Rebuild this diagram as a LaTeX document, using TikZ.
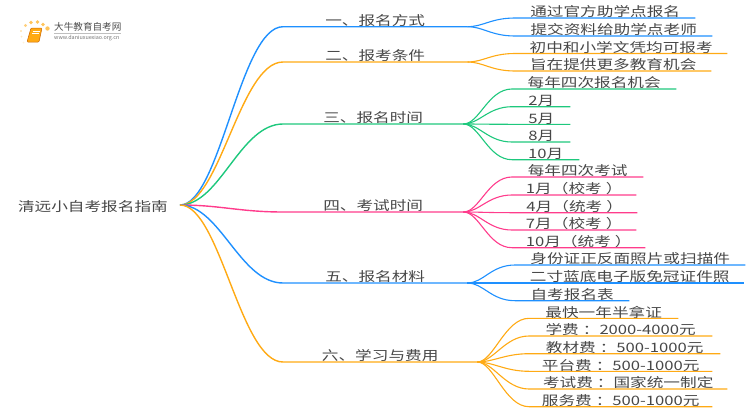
\documentclass[tikz,border=0pt]{standalone}
\usepackage{fontspec}
\setmainfont[FakeStretch=1.28]{Noto Sans CJK SC}
\newfontfamily\logofont{Noto Sans CJK SC}
\definecolor{lineblue}{RGB}{30,144,255}
\definecolor{lineorange}{RGB}{255,170,20}
\definecolor{linegreen}{RGB}{30,200,125}
\definecolor{linepink}{RGB}{255,60,140}
\tikzset{
	topic/.style={inner xsep=8pt, inner ysep=0pt, text height=10.5pt, text depth=1pt, text=black!72, font=\fontsize{13}{13}\selectfont, anchor=south west},
	root/.style={topic, inner xsep=12pt, text height=14.5pt, text depth=1.5pt, anchor=east}
}
\def\limb[#1](#2)(#3){\draw[line width=1.4pt, color=#1] (#2) .. controls +(40,0) and +(-43,0) .. (#3.south west) -- (#3.south east);}
\def\twig[#1](#2)(#3){\draw[line width=1.1pt, color=#1] (#2.south east) .. controls +(16,0) and +(-24,0) .. (#3.south west) -- (#3.south east);}
\def\gap{\hspace{4pt}}

\begin{document}
\begin{tikzpicture}[x=1pt, y=-1pt]
	%%%%% START %%%%%
	\useasboundingbox (0, 0) rectangle (750, 410);

	\node[root] (guide) at (180, 205) {清远小自考报名指南};

	\node[topic, minimum width=184] (way) at (283, 26.7) {一、报名方式};
	\node[topic, minimum width=184] (cond) at (283, 62) {二、报考条件};
	\node[topic, minimum width=180] (date) at (283, 124) {三、报名时间};
	\node[topic, minimum width=180] (exam) at (283, 212) {四、考试时间};
	\node[topic, minimum width=184] (docs) at (283, 283) {五、报名材料};
	\node[topic, minimum width=194] (fees) at (283, 362) {六、学习与费用};

	\limb[lineblue](guide.east)(way);
	\limb[lineorange](guide.east)(cond);
	\limb[linegreen](guide.east)(date);
	\limb[linepink](guide.east)(exam);
	\limb[lineblue](guide.east)(docs);
	\limb[lineorange](guide.east)(fees);

	\node[topic, minimum width=180] (way1) at (515, 18) {通过官方助学点报名};
	\node[topic, minimum width=197] (way2) at (515, 36) {提交资料给助学点老师};
	\twig[lineblue](way)(way1);
	\twig[lineblue](way)(way2);

	\node[topic, minimum width=212] (cond1) at (515, 53.5) {初中和小学文凭均可报考};
	\node[topic, minimum width=196] (cond2) at (515, 71) {旨在提供更多教育机会};
	\twig[lineorange](cond)(cond1);
	\twig[lineorange](cond)(cond2);

	\node[topic, minimum width=164] (date1) at (512, 89) {每年四次报名机会};
	\node[topic, minimum width=58] (date2) at (512, 106.7) {2月};
	\node[topic, minimum width=58] (date3) at (512, 124.3) {5月};
	\node[topic, minimum width=58] (date4) at (512, 142) {8月};
	\node[topic, minimum width=67] (date5) at (512, 159.7) {10月};
	\twig[linegreen](date)(date1);
	\twig[linegreen](date)(date2);
	\twig[linegreen](date)(date3);
	\twig[linegreen](date)(date4);
	\twig[linegreen](date)(date5);

	\node[topic, minimum width=131] (exam1) at (512, 177) {每年四次考试};
	\node[topic, minimum width=124] (exam2) at (512, 195) {1月（校考\gap）};
	\node[topic, minimum width=125] (exam3) at (512, 212.7) {4月（统考\gap）};
	\node[topic, minimum width=124] (exam4) at (512, 230) {7月（校考\gap）};
	\node[topic, minimum width=133] (exam5) at (512, 247.7) {10月（统考\gap）};
	\twig[linepink](exam)(exam1);
	\twig[linepink](exam)(exam2);
	\twig[linepink](exam)(exam3);
	\twig[linepink](exam)(exam4);
	\twig[linepink](exam)(exam5);

	\node[topic, minimum width=230] (docs1) at (515, 265) {身份证正反面照片或扫描件};
	\node[topic, minimum width=229] (docs2) at (515, 283) {二寸蓝底电子版免冠证件照};
	\node[topic, minimum width=114] (docs3) at (515, 300.7) {自考报名表};
	\twig[lineblue](docs)(docs1);
	\twig[lineblue](docs)(docs2);
	\twig[lineblue](docs)(docs3);

	\node[topic, minimum width=149] (fees1) at (529, 318.3) {最快一年半拿证};
	\node[topic, minimum width=183] (fees2) at (529, 336) {学费\gap：2000-4000元};
	\node[topic, minimum width=191] (fees3) at (529, 353.7) {教材费\gap：500-1000元};
	\node[topic, minimum width=183] (fees4) at (529, 371.3) {平台费\gap：500-1000元};
	\node[topic, minimum width=198] (fees5) at (529, 389) {考试费\gap：国家统一制定};
	\node[topic, minimum width=183] (fees6) at (529, 406.7) {服务费\gap：500-1000元};
	\twig[lineorange](fees)(fees1);
	\twig[lineorange](fees)(fees2);
	\twig[lineorange](fees)(fees3);
	\twig[lineorange](fees)(fees4);
	\twig[lineorange](fees)(fees5);
	\twig[lineorange](fees)(fees6);

	% logo
	\fill[lineorange!35] (21, 31) circle (1.2);
	\fill[lineorange!55] (25.5, 25.5) circle (1.6);
	\fill[lineorange!70] (31, 22.5) circle (1.9);
	\fill[lineorange!70] (37.5, 22) circle (1.9);
	\fill[lineorange!70] (43, 24.5) circle (1.9);
	\fill[lineorange!70] (47.5, 28.5) circle (2.2);
	\fill[lineorange!25] (21.5, 36.5) circle (1);
	\fill[lineorange!15] (23.5, 42.5) circle (1);
	\draw[fill=lineorange, draw=orange!80!black, line width=0.5pt, rounded corners=1pt] (31, 28) -- (42, 28) -- (39, 42) -- (27, 42) -- cycle;
	\draw[white, line width=0.6pt] (32.5, 31) -- (39.5, 31);
	\draw[white, line width=0.6pt] (32, 33.5) -- (39, 33.5);
	\draw[black!25, line width=0.5pt] (54, 33.2) -- (121, 33.2);
	\node[anchor=west, inner sep=0pt, text=black!70, font=\logofont\fontsize{9.6}{10}\selectfont] (brand) at (54, 27) {大牛教育自考网};
	\node[anchor=west, inner sep=0pt, text=black!55, font=\logofont\fontsize{5.4}{6}\selectfont] (site) at (54, 38.5) {www.daniuxuexiao.org.cn};
	%%%%% END %%%%%
\end{tikzpicture}
\end{document}
